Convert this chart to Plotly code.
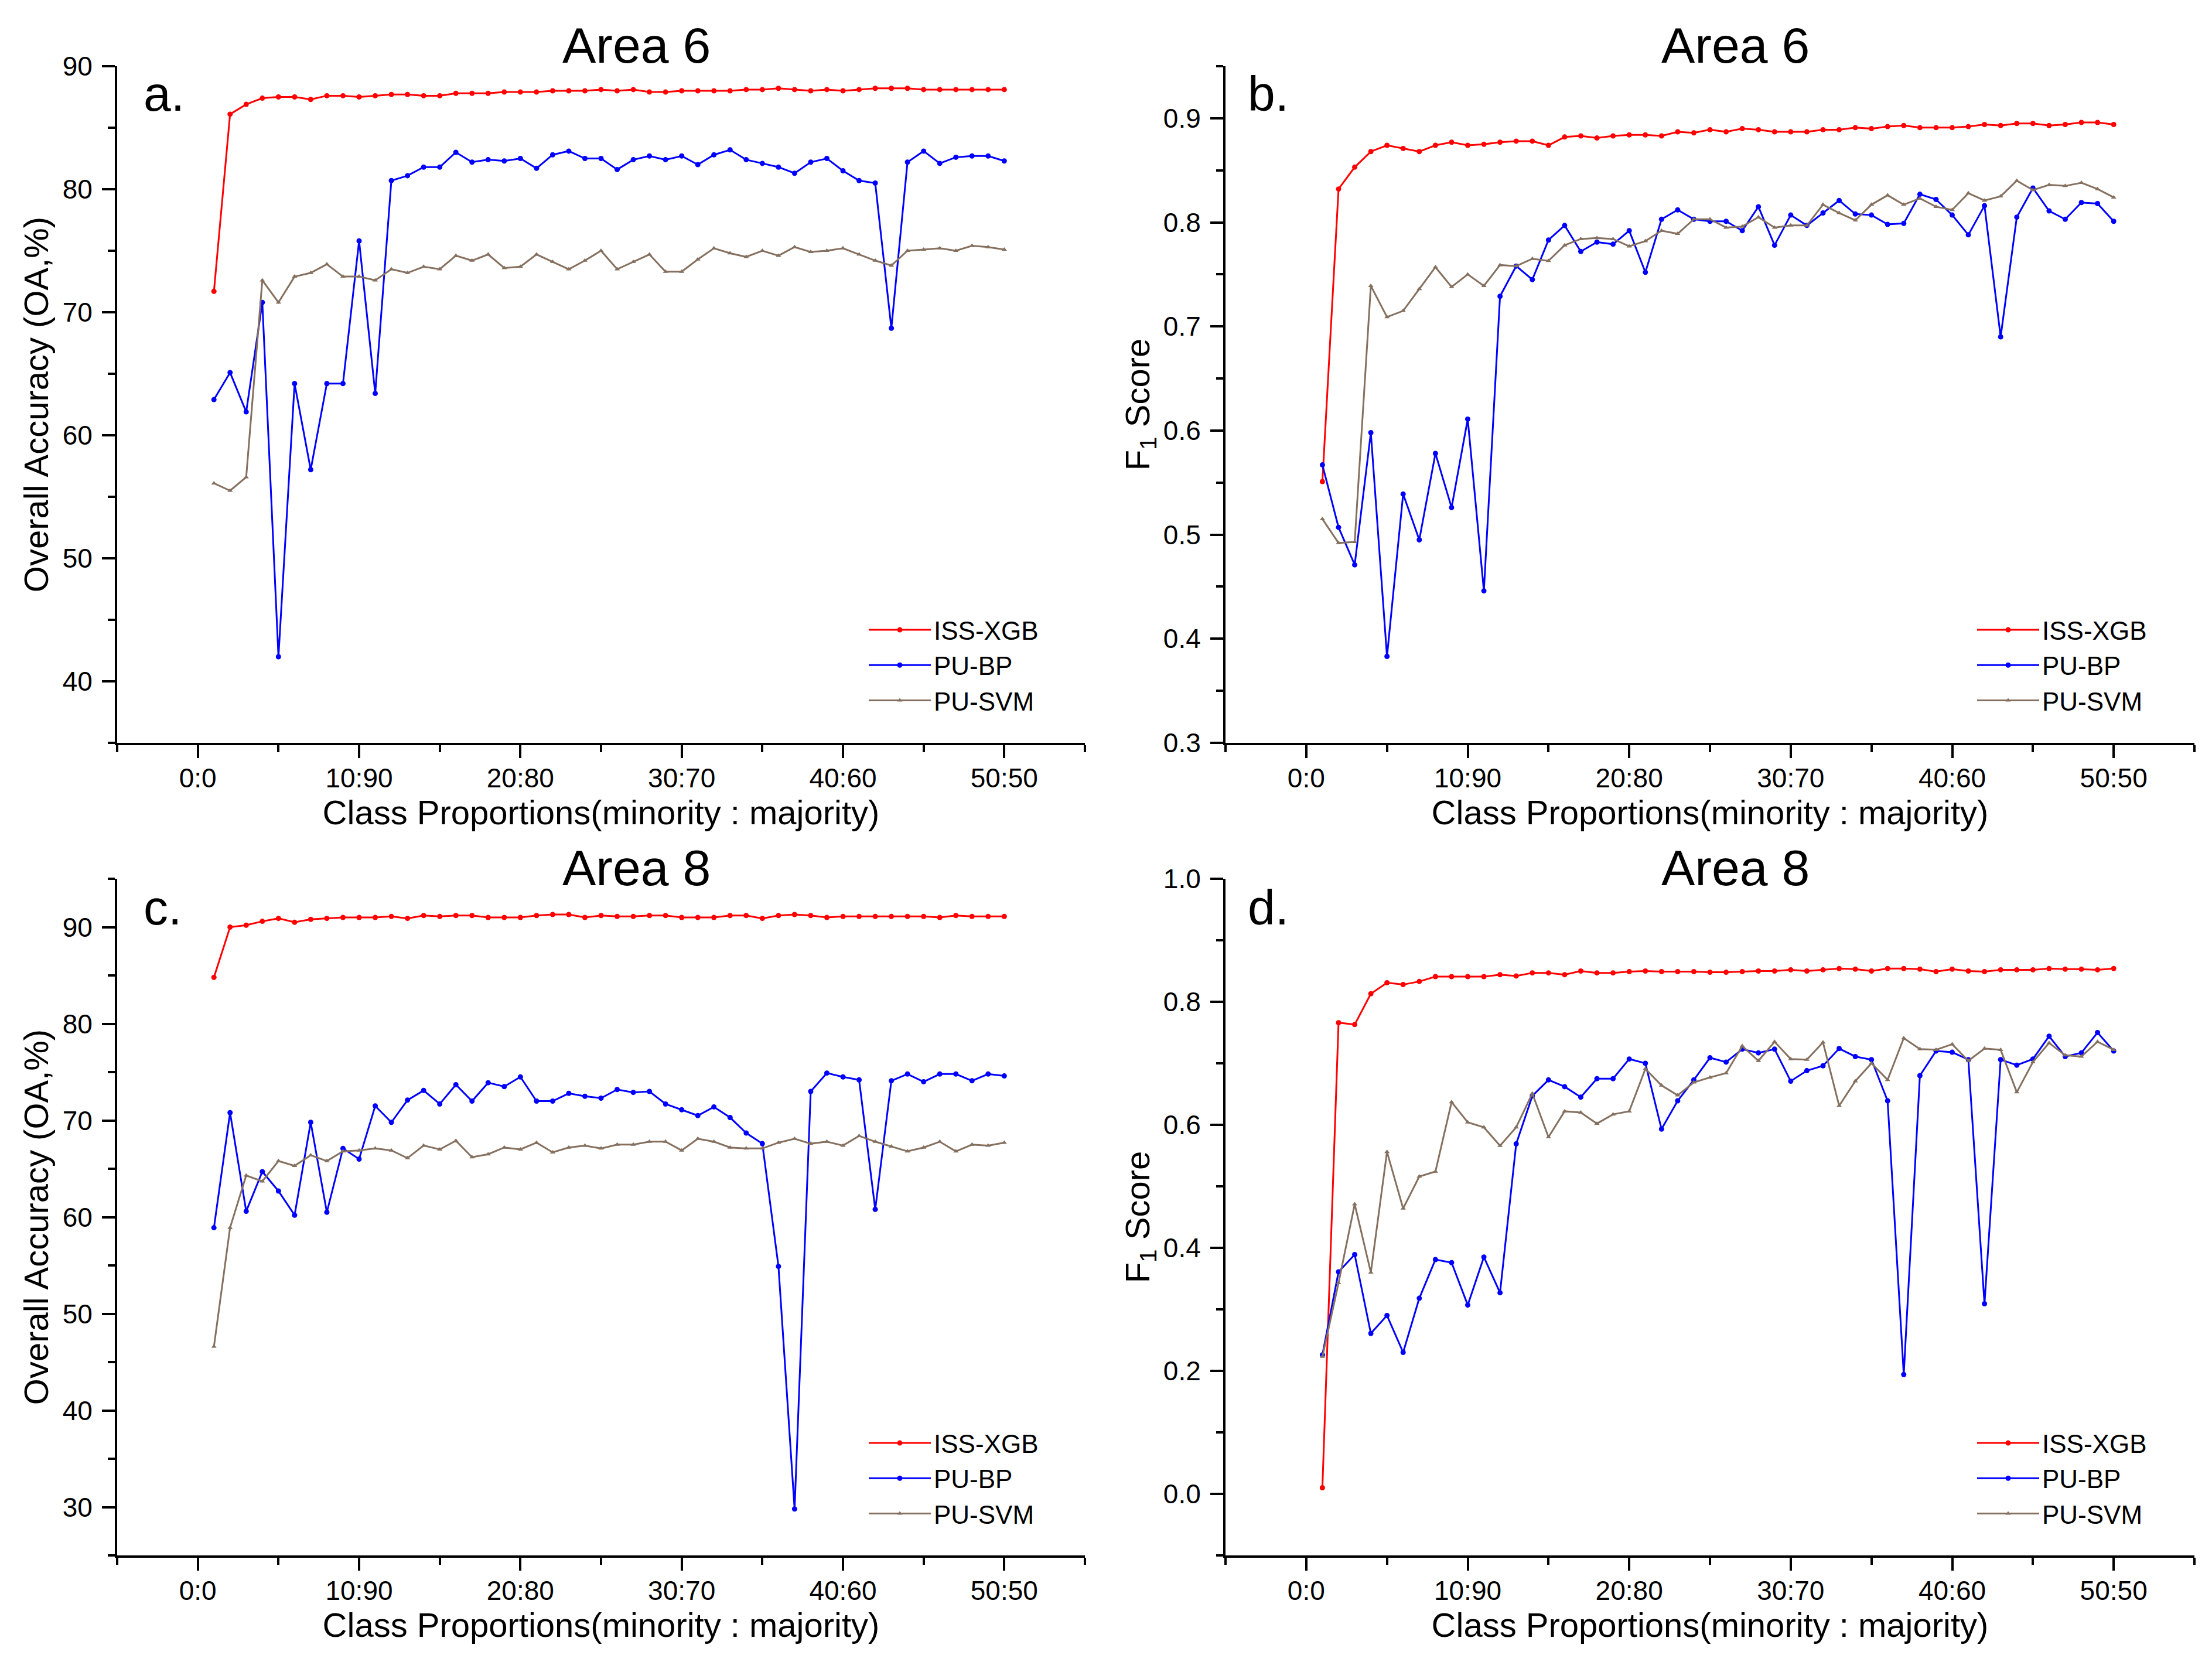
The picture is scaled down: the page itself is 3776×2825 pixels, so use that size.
import plotly.graph_objects as go

W, H = 3776, 2825
OFF = 8  # page body margin
FONT = "Liberation Sans, Arial, sans-serif"

# ---------------- data ----------------
x_vals = list(range(1, 51))
x_tick_vals = [0, 10, 20, 30, 40, 50]
x_tick_text = ["0:0", "10:90", "20:80", "30:70", "40:60", "50:50"]
x_minor_vals = [-5, 5, 15, 25, 35, 45, 55]

series_names = ["ISS-XGB", "PU-BP", "PU-SVM"]

a_iss = [71.7, 86.1, 86.9, 87.4, 87.5, 87.5, 87.3, 87.6, 87.6, 87.5, 87.6, 87.7, 87.7, 87.6, 87.6,
         87.8, 87.8, 87.8, 87.9, 87.9, 87.9, 88.0, 88.0, 88.0, 88.1,
         88.0, 88.1, 87.9, 87.9, 88.0, 88.0, 88.0, 88.0, 88.1, 88.1, 88.2, 88.1, 88.0, 88.1, 88.0,
         88.1, 88.2, 88.2, 88.2, 88.1, 88.1, 88.1, 88.1, 88.1, 88.1]
a_bp = [62.9, 65.1, 61.9, 70.8, 42.0, 64.2, 57.2, 64.2, 64.2, 75.8, 63.4, 80.7, 81.1, 81.8, 81.8,
        83.0, 82.2, 82.4, 82.3, 82.5, 81.7, 82.8, 83.1, 82.5, 82.5,
        81.6, 82.4, 82.7, 82.4, 82.7, 82.0, 82.8, 83.2, 82.4, 82.1, 81.8, 81.3, 82.2, 82.5, 81.5,
        80.7, 80.5, 68.7, 82.2, 83.1, 82.1, 82.6, 82.7, 82.7, 82.3]
a_svm = [56.1, 55.5, 56.6, 72.6, 70.8, 72.9, 73.2, 73.9, 72.9, 72.9, 72.6, 73.5, 73.2, 73.7, 73.5,
         74.6, 74.2, 74.7, 73.6, 73.7, 74.7, 74.1, 73.5, 74.2, 75.0,
         73.5, 74.1, 74.7, 73.3, 73.3, 74.3, 75.2, 74.8, 74.5, 75.0, 74.6, 75.3, 74.9, 75.0, 75.2,
         74.7, 74.2, 73.8, 75.0, 75.1, 75.2, 75.0, 75.4, 75.3, 75.1]

b_iss = [0.551, 0.832, 0.853, 0.868, 0.874, 0.871, 0.868, 0.874, 0.877, 0.874, 0.875, 0.877, 0.878,
         0.878, 0.874, 0.882, 0.883, 0.881, 0.883, 0.884, 0.884, 0.883, 0.887, 0.886, 0.889,
         0.887, 0.890, 0.889, 0.887, 0.887, 0.887, 0.889, 0.889, 0.891, 0.890, 0.892, 0.893, 0.891,
         0.891, 0.891, 0.892, 0.894, 0.893, 0.895, 0.895, 0.893, 0.894, 0.896, 0.896, 0.894]
b_bp = [0.567, 0.507, 0.471, 0.598, 0.383, 0.539, 0.495, 0.578, 0.526, 0.611, 0.446, 0.729, 0.758,
        0.745, 0.783, 0.797, 0.772, 0.781, 0.779, 0.792, 0.752, 0.803, 0.812, 0.803, 0.801,
        0.801, 0.792, 0.815, 0.778, 0.807, 0.797, 0.809, 0.821, 0.808, 0.807, 0.798, 0.799, 0.827,
        0.822, 0.807, 0.788, 0.816, 0.690, 0.805, 0.833, 0.811, 0.803, 0.819, 0.818, 0.801]
b_svm = [0.515, 0.492, 0.493, 0.739, 0.709, 0.715, 0.736, 0.757, 0.738, 0.750, 0.739, 0.759, 0.758,
         0.765, 0.763, 0.778, 0.784, 0.785, 0.784, 0.777, 0.782, 0.792, 0.789, 0.803, 0.803,
         0.795, 0.796, 0.805, 0.795, 0.797, 0.797, 0.817, 0.809, 0.802, 0.817, 0.826, 0.817, 0.823,
         0.815, 0.812, 0.828, 0.821, 0.825, 0.840, 0.831, 0.836, 0.835, 0.838, 0.832, 0.824]

c_iss = [84.8, 90.0, 90.2, 90.6, 90.9, 90.5, 90.8, 90.9, 91.0, 91.0, 91.0, 91.1, 90.9, 91.2, 91.1,
         91.2, 91.2, 91.0, 91.0, 91.0, 91.2, 91.3, 91.3, 91.0, 91.2,
         91.1, 91.1, 91.2, 91.2, 91.0, 91.0, 91.0, 91.2, 91.2, 90.9, 91.2, 91.3, 91.2, 91.0, 91.1,
         91.1, 91.1, 91.1, 91.1, 91.1, 91.0, 91.2, 91.1, 91.1, 91.1]
c_bp = [58.9, 70.8, 60.6, 64.7, 62.7, 60.2, 69.8, 60.5, 67.1, 66.0, 71.5, 69.8, 72.1, 73.1, 71.7,
        73.7, 72.0, 73.9, 73.5, 74.5, 72.0, 72.0, 72.8, 72.5, 72.3,
        73.2, 72.9, 73.0, 71.7, 71.1, 70.5, 71.4, 70.3, 68.7, 67.6, 54.9, 29.8, 73.0, 74.9, 74.5,
        74.2, 60.8, 74.1, 74.8, 74.0, 74.8, 74.8, 74.1, 74.8, 74.6]
c_svm = [46.6, 58.9, 64.3, 63.7, 65.8, 65.3, 66.4, 65.8, 66.8, 66.9, 67.1, 66.9, 66.1, 67.4, 67.0,
         67.9, 66.2, 66.5, 67.2, 67.0, 67.7, 66.7, 67.2, 67.4, 67.1,
         67.5, 67.5, 67.8, 67.8, 66.9, 68.1, 67.8, 67.2, 67.1, 67.1, 67.7, 68.1, 67.6, 67.8, 67.4,
         68.4, 67.8, 67.3, 66.8, 67.2, 67.8, 66.8, 67.5, 67.4, 67.7]

d_iss = [0.010, 0.766, 0.763, 0.813, 0.831, 0.828, 0.833, 0.841, 0.841, 0.841, 0.841, 0.844, 0.842,
         0.847, 0.847, 0.844, 0.850, 0.847, 0.847, 0.849, 0.850, 0.849, 0.849, 0.849, 0.848,
         0.848, 0.849, 0.850, 0.850, 0.852, 0.850, 0.852, 0.854, 0.853, 0.850, 0.854, 0.854, 0.853,
         0.849, 0.853, 0.850, 0.849, 0.852, 0.852, 0.852, 0.854, 0.853, 0.853, 0.852, 0.854]
d_bp = [0.226, 0.361, 0.389, 0.261, 0.290, 0.230, 0.318, 0.381, 0.376, 0.307, 0.385, 0.327, 0.569,
        0.647, 0.673, 0.662, 0.645, 0.675, 0.675, 0.707, 0.700, 0.593, 0.639, 0.673, 0.709,
        0.702, 0.723, 0.717, 0.723, 0.671, 0.688, 0.696, 0.724, 0.711, 0.706, 0.639, 0.194, 0.680,
        0.720, 0.718, 0.706, 0.309, 0.706, 0.697, 0.707, 0.744, 0.711, 0.717, 0.750, 0.720]
d_svm = [0.223, 0.343, 0.471, 0.360, 0.556, 0.464, 0.516, 0.524, 0.637, 0.604, 0.596, 0.566, 0.596,
         0.651, 0.580, 0.622, 0.620, 0.602, 0.617, 0.622, 0.691, 0.664, 0.648, 0.669, 0.677,
         0.684, 0.728, 0.704, 0.735, 0.707, 0.706, 0.734, 0.631, 0.671, 0.700, 0.673, 0.741, 0.723,
         0.722, 0.731, 0.704, 0.724, 0.722, 0.653, 0.702, 0.733, 0.713, 0.711, 0.735, 0.722]

panel_titles = ["Area 6", "Area 6", "Area 8", "Area 8"]
panel_letters = ["a.", "b.", "c.", "d."]
y_titles = ["Overall Accuracy (OA,%)", "F<sub>1</sub> Score", "Overall Accuracy (OA,%)", "F<sub>1</sub> Score"]
x_title = "Class Proportions(minority : majority)"

# ---------------- styling ----------------
colors = ["#ff0000", "#0000ff", "#85705f"]
symbols = ["circle", "circle", "triangle-up"]
msizes = [9, 9, 8]

FW, FH = W - OFF, H - OFF

def px_x(p):
    return (p - OFF) / FW

def px_y(p):
    return 1 - (p - OFF) / FH

x_domains = [[px_x(200), px_x(1852)], [px_x(2092), px_x(3746)]]
y_domains = [[px_y(1268), px_y(113)], [px_y(2655), px_y(1500)]]

panels = [
    dict(data=[a_iss, a_bp, a_svm], col=0, row=0, yrange=[35, 90], ytick0=40, ydtick=10, yminor=5, fmt=""),
    dict(data=[b_iss, b_bp, b_svm], col=1, row=0, yrange=[0.3, 0.95], ytick0=0.3, ydtick=0.1, yminor=0.05, fmt=".1f"),
    dict(data=[c_iss, c_bp, c_svm], col=0, row=1, yrange=[25, 95], ytick0=30, ydtick=10, yminor=5, fmt=""),
    dict(data=[d_iss, d_bp, d_svm], col=1, row=1, yrange=[-0.1, 1.0], ytick0=0.0, ydtick=0.2, yminor=0.1, fmt=".1f"),
]

fig = go.Figure()
layout = dict(
    width=FW, height=FH, margin=dict(l=0, r=0, t=0, b=0, autoexpand=False),
    paper_bgcolor="white", plot_bgcolor="white",
    font=dict(family=FONT, color="black", size=46),
    showlegend=True, annotations=[],
)

legend_x_px = [1478, 3370]
legend_y_px = [1040, 2428]

for i, p in enumerate(panels):
    n = "" if i == 0 else str(i + 1)
    xa, ya = "x" + n, "y" + n
    leg = "legend" + n
    for k in range(3):
        fig.add_trace(go.Scatter(
            x=x_vals, y=p["data"][k], name=series_names[k], mode="lines+markers",
            xaxis=xa, yaxis=ya, legend=leg,
            line=dict(color=colors[k], width=3),
            marker=dict(color=colors[k], size=msizes[k], symbol=symbols[k]),
        ))
    common = dict(ticks="outside", ticklen=22, tickwidth=4, tickcolor="black",
                  showline=True, linewidth=4, linecolor="black", showgrid=False, zeroline=False,
                  automargin=False,
                  tickfont=dict(size=46, family=FONT, color="black"))
    layout["xaxis" + n] = dict(
        domain=x_domains[p["col"]], anchor=ya, range=[-5, 55],
        tickmode="array", tickvals=x_tick_vals, ticktext=x_tick_text,
        minor=dict(tickmode="array", tickvals=x_minor_vals, ticks="outside", ticklen=12,
                   tickwidth=4, tickcolor="black", showgrid=False),
        title=dict(text=x_title, font=dict(size=58, family=FONT, color="black"), standoff=0),
        ticklabelstandoff=-5,
        **common)
    layout["yaxis" + n] = dict(
        domain=y_domains[p["row"]], anchor=xa, range=p["yrange"],
        tickmode="linear", tick0=p["ytick0"], dtick=p["ydtick"], tickformat=p["fmt"],
        minor=dict(tickmode="linear", tick0=p["ytick0"], dtick=p["yminor"], ticks="outside",
                   ticklen=12, tickwidth=4, tickcolor="black", showgrid=False),
        title=dict(text=y_titles[i], font=dict(size=58, family=FONT, color="black"), standoff=6),
        ticklabelstandoff=7,
        **common)
    layout[leg] = dict(
        x=px_x(legend_x_px[p["col"]]), y=px_y(legend_y_px[p["row"]]),
        xanchor="left", yanchor="top", bgcolor="rgba(0,0,0,0)", borderwidth=0,
        font=dict(size=44, family=FONT, color="black"), itemwidth=106, tracegroupgap=0,
    )
    cx = [1086, 2962][p["col"]]
    cy = [77, 1481][p["row"]]
    layout["annotations"].append(dict(
        text=panel_titles[i], xref="paper", yref="paper", x=px_x(cx), y=px_y(cy),
        xanchor="center", yanchor="middle", showarrow=False,
        font=dict(size=86, family=FONT, color="black")))
    lx = [243, 2128][p["col"]]
    ly = [160, 1549][p["row"]]
    layout["annotations"].append(dict(
        text=panel_letters[i], xref="paper", yref="paper", x=px_x(lx), y=px_y(ly),
        xanchor="left", yanchor="middle", showarrow=False,
        font=dict(size=84, family=FONT, color="black")))

fig.update_layout(**layout)
fig.write_html("out.html")
